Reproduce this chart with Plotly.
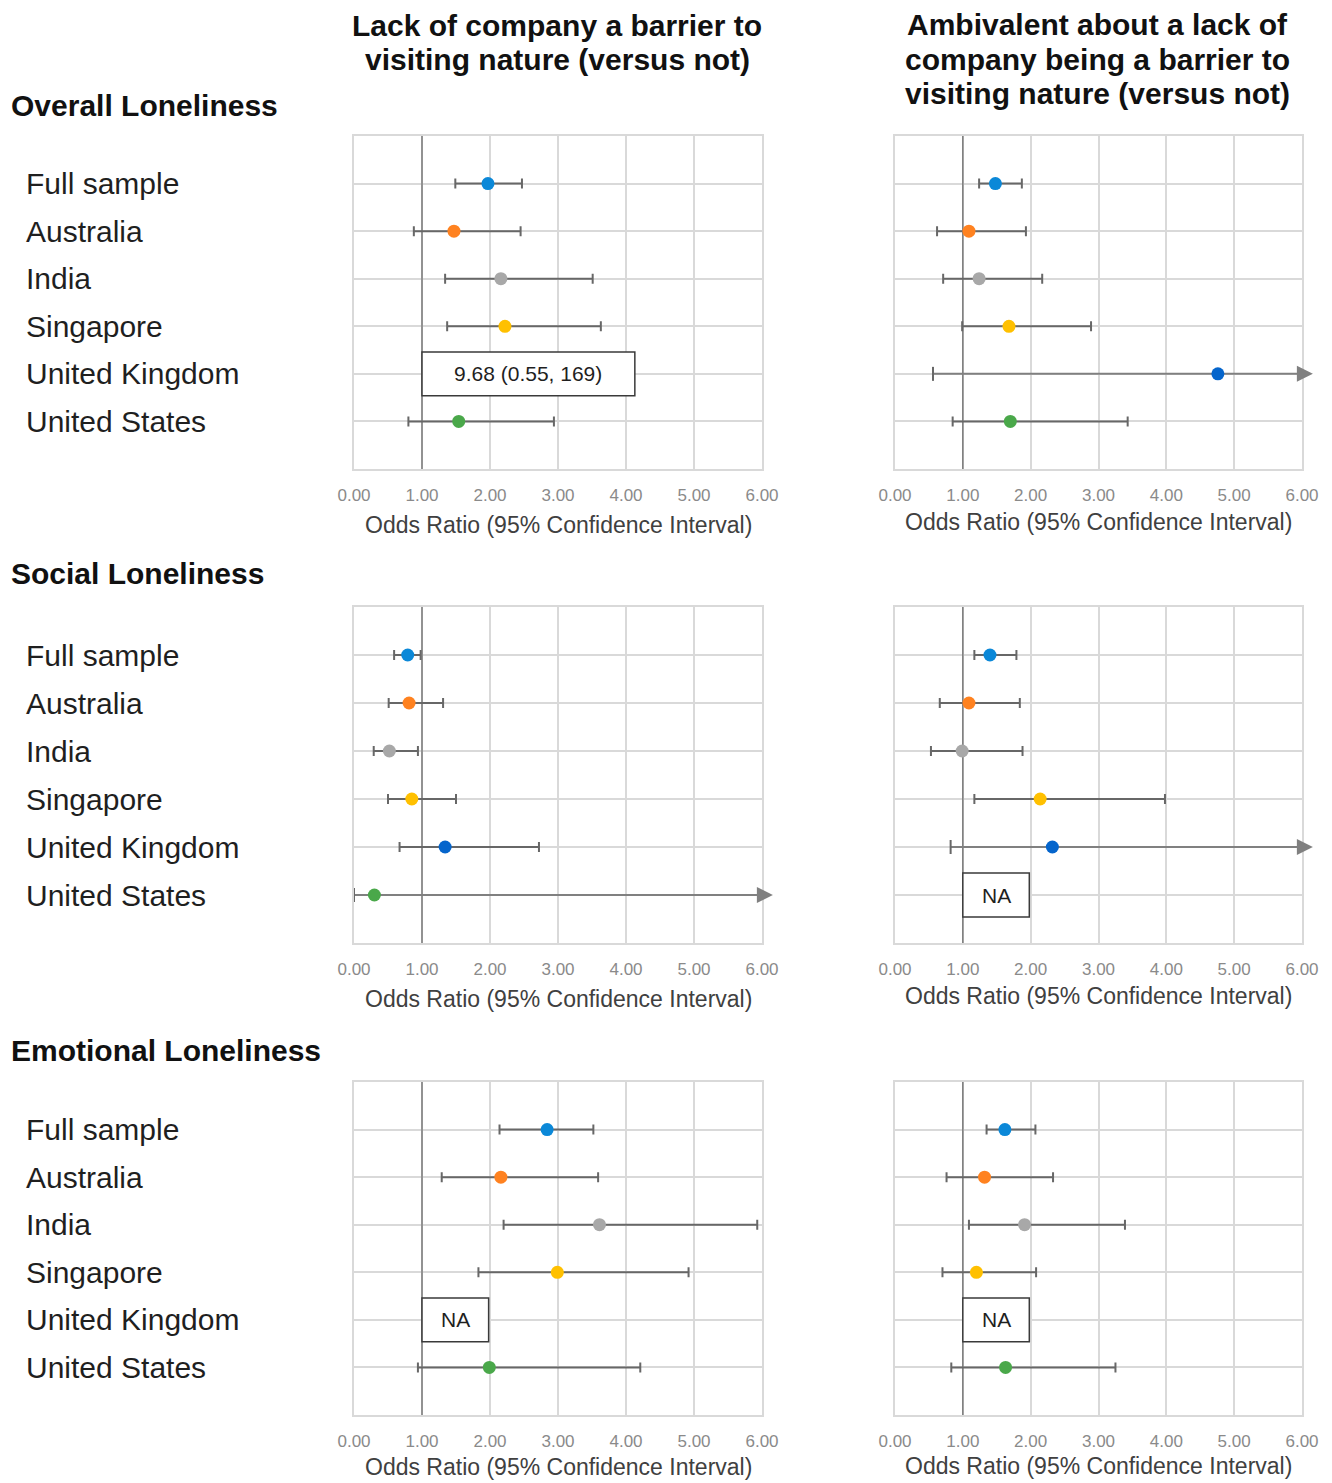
import plotly.graph_objects as go

# ---------------- data ----------------
categories = ["Full sample", "Australia", "India", "Singapore", "United Kingdom", "United States"]
x_ticks = [0, 1, 2, 3, 4, 5, 6]
x_tick_labels = ["0.00", "1.00", "2.00", "3.00", "4.00", "5.00", "6.00"]

section_titles = ["Overall Loneliness", "Social Loneliness", "Emotional Loneliness"]
column_titles = [
    ["Lack of company a barrier to", "visiting nature (versus not)"],
    ["Ambivalent about a lack of", "company being a barrier to", "visiting nature (versus not)"],
]
axis_title = "Odds Ratio (95% Confidence Interval)"
NULL_OR = 1.0

# None in *_or => not estimable (box label); None in *_hi => upper CI beyond axis (arrow)
overall_lack_or = [1.97, 1.47, 2.16, 2.22, None, 1.54]
overall_lack_lo = [1.49, 0.88, 1.34, 1.37, None, 0.80]
overall_lack_hi = [2.47, 2.45, 3.51, 3.63, None, 2.94]

overall_amb_or = [1.48, 1.09, 1.24, 1.68, 4.76, 1.70]
overall_amb_lo = [1.24, 0.62, 0.71, 0.99, 0.56, 0.85]
overall_amb_hi = [1.87, 1.93, 2.17, 2.89, None, 3.43]

social_lack_or = [0.79, 0.81, 0.52, 0.85, 1.34, 0.30]
social_lack_lo = [0.59, 0.51, 0.29, 0.50, 0.67, 0.00]
social_lack_hi = [0.98, 1.31, 0.94, 1.50, 2.72, None]

social_amb_or = [1.40, 1.09, 0.99, 2.14, 2.32, None]
social_amb_lo = [1.17, 0.66, 0.53, 1.17, 0.82, None]
social_amb_hi = [1.79, 1.84, 1.88, 3.98, None, None]

emo_lack_or = [2.84, 2.16, 3.61, 2.99, None, 1.99]
emo_lack_lo = [2.14, 1.29, 2.20, 1.83, None, 0.94]
emo_lack_hi = [3.52, 3.59, 5.93, 4.92, None, 4.21]

emo_amb_or = [1.62, 1.32, 1.91, 1.20, None, 1.63]
emo_amb_lo = [1.35, 0.76, 1.09, 0.70, None, 0.83]
emo_amb_hi = [2.07, 2.33, 3.39, 2.08, None, 3.25]

# labels shown in place of missing estimates: (row, col, category index, text)
missing_labels = [
    (0, 0, 4, "9.68 (0.55, 169)"),
    (1, 1, 5, "NA"),
    (2, 0, 4, "NA"),
    (2, 1, 4, "NA"),
]

panels = {
    (0, 0): (overall_lack_or, overall_lack_lo, overall_lack_hi),
    (0, 1): (overall_amb_or, overall_amb_lo, overall_amb_hi),
    (1, 0): (social_lack_or, social_lack_lo, social_lack_hi),
    (1, 1): (social_amb_or, social_amb_lo, social_amb_hi),
    (2, 0): (emo_lack_or, emo_lack_lo, emo_lack_hi),
    (2, 1): (emo_amb_or, emo_amb_lo, emo_amb_hi),
}

# ---------------- styles / layout ----------------
OFF = 8                      # page body margin (figure starts at 8,8 in the page)
W, H = 1332 - OFF, 1483 - OFF
colors = ["#0b88d8", "#ff8220", "#a8a8a8", "#ffc000", "#0565cc", "#4aa84a"]
XMAX = 6
GRID = "#d9d9d9"
ERR = "#676767"
ARROW = "#808080"
FONT = "Liberation Sans, Arial, sans-serif"

col_px = [(354, 762), (895, 1302)]
row_px = [(136, 469), (607, 943), (1082, 1415)]
section_y = [106, 574, 1050]
axis_title_y = [[525, 522], [999, 996], [1467, 1466]]
col_title_center = [557, 1097]
col_title_y = [[25, 59], [24, 59, 94]]
box_width = {"NA": 0.98}
box_width_long = 3.13
ARROW_TIP = 0.16             # arrow head beyond the axis end (data units)


def px_x(p):
    return (p - OFF) / W


def px_y(p):
    return 1 - (p - OFF) / H


fig = go.Figure()
layout_axes = {}
shapes = []
annotations = []

for (r, c), (ors, los, his) in panels.items():
    k = r * 2 + c + 1
    xa = "x" if k == 1 else f"x{k}"
    ya = "y" if k == 1 else f"y{k}"
    xkey = "xaxis" if k == 1 else f"xaxis{k}"
    ykey = "yaxis" if k == 1 else f"yaxis{k}"
    x0, x1 = col_px[c]
    y0, y1 = row_px[r]
    nrows = len(categories) + 1
    layout_axes[xkey] = dict(
        domain=[px_x(x0), px_x(x1)], anchor=ya, range=[0, XMAX],
        tickvals=x_ticks, ticktext=x_tick_labels,
        showgrid=True, gridcolor=GRID, gridwidth=1.5,
        showline=True, linecolor=GRID, linewidth=1.5, mirror=True,
        zeroline=False, ticks="", ticklabelstandoff=10, automargin=False,
        tickfont=dict(family=FONT, size=17, color="#8a8a8a"),
        fixedrange=True,
    )
    layout_axes[ykey] = dict(
        domain=[px_y(y1), px_y(y0)], anchor=xa, range=[nrows, 0],
        tickvals=list(range(nrows + 1)),
        showgrid=True, gridcolor=GRID, gridwidth=1.5,
        showline=True, linecolor=GRID, linewidth=1.5, mirror=True,
        zeroline=False, showticklabels=False, ticks="", automargin=False,
        fixedrange=True,
    )
    # reference line at OR = 1
    fig.add_trace(go.Scatter(
        x=[NULL_OR, NULL_OR], y=[0, nrows], xaxis=xa, yaxis=ya, mode="lines",
        line=dict(color="#7a7a7a", width=1.5), hoverinfo="skip"))

    for i, cat in enumerate(categories):
        yv = i + 1
        if ors[i] is None:
            continue
        if his[i] is None:
            # CI extends beyond the axis: line + arrow head
            fig.add_trace(go.Scatter(
                x=[los[i], XMAX], y=[yv, yv], xaxis=xa, yaxis=ya, mode="lines",
                line=dict(color=ARROW, width=2), hoverinfo="skip"))
            fig.add_trace(go.Scatter(
                x=[los[i]], y=[yv], xaxis=xa, yaxis=ya, mode="markers",
                marker=dict(symbol="line-ns", size=10, line=dict(color=ERR, width=2)),
                cliponaxis=False, hoverinfo="skip"))
            annotations.append(dict(
                text="", xref=xa, yref=ya, x=XMAX + ARROW_TIP, y=yv,
                axref=xa, ayref=ya, ax=XMAX - 0.05, ay=yv,
                showarrow=True, arrowhead=2, arrowsize=1.6, arrowwidth=2,
                arrowcolor=ARROW, standoff=0, startstandoff=0))
            fig.add_trace(go.Scatter(
                x=[ors[i]], y=[yv], xaxis=xa, yaxis=ya, mode="markers",
                marker=dict(size=13, color=colors[i]), cliponaxis=False,
                name=cat))
        else:
            fig.add_trace(go.Scatter(
                x=[ors[i]], y=[yv], xaxis=xa, yaxis=ya, mode="markers",
                marker=dict(size=13, color=colors[i]), cliponaxis=False,
                error_x=dict(type="data", symmetric=False,
                             array=[his[i] - ors[i]], arrayminus=[ors[i] - los[i]],
                             color=ERR, thickness=2, width=5),
                name=cat))

    # category labels
    if c == 0:
        for i, cat in enumerate(categories):
            annotations.append(dict(text=cat, xref="paper", yref=ya, x=px_x(24), y=i + 1,
                                    xanchor="left", yanchor="middle", showarrow=False,
                                    font=dict(family=FONT, size=30, color="#1f1f1f")))

    # axis title
    annotations.append(dict(text=axis_title, xref="paper", yref="paper",
                            x=px_x((x0 + x1) / 2), y=px_y(axis_title_y[r][c]),
                            xanchor="center", yanchor="middle", showarrow=False,
                            font=dict(family=FONT, size=23, color="#404040")))

# missing-value boxes
for (r, c, idx, text) in missing_labels:
    k = r * 2 + c + 1
    xa = "x" if k == 1 else f"x{k}"
    ya = "y" if k == 1 else f"y{k}"
    wbox = box_width.get(text, box_width_long)
    yv = idx + 1
    shapes.append(dict(type="rect", xref=xa, yref=ya, x0=NULL_OR, x1=NULL_OR + wbox,
                       y0=yv - 0.46, y1=yv + 0.46, fillcolor="white",
                       line=dict(color="#3a3a3a", width=1.5), layer="above"))
    annotations.append(dict(text=text, xref=xa, yref=ya, x=NULL_OR + wbox / 2, y=yv,
                            xanchor="center", yanchor="middle", showarrow=False,
                            font=dict(family=FONT, size=21, color="#1f1f1f")))

# section titles
for r, t in enumerate(section_titles):
    annotations.append(dict(text=f"<b>{t}</b>", xref="paper", yref="paper",
                            x=px_x(9), y=px_y(section_y[r]), xanchor="left",
                            yanchor="middle", showarrow=False,
                            font=dict(family=FONT, size=30, color="#111111")))

# column titles
for c, lines in enumerate(column_titles):
    for j, line in enumerate(lines):
        annotations.append(dict(text=f"<b>{line}</b>", xref="paper", yref="paper",
                                x=px_x(col_title_center[c]), y=px_y(col_title_y[c][j]),
                                xanchor="center", yanchor="middle", showarrow=False,
                                font=dict(family=FONT, size=30, color="#111111")))

fig.update_layout(
    width=W, height=H, margin=dict(l=0, r=0, t=0, b=0, autoexpand=False),
    paper_bgcolor="white", plot_bgcolor="white", showlegend=False,
    shapes=shapes, annotations=annotations, **layout_axes,
)

fig.write_html("out.html")
